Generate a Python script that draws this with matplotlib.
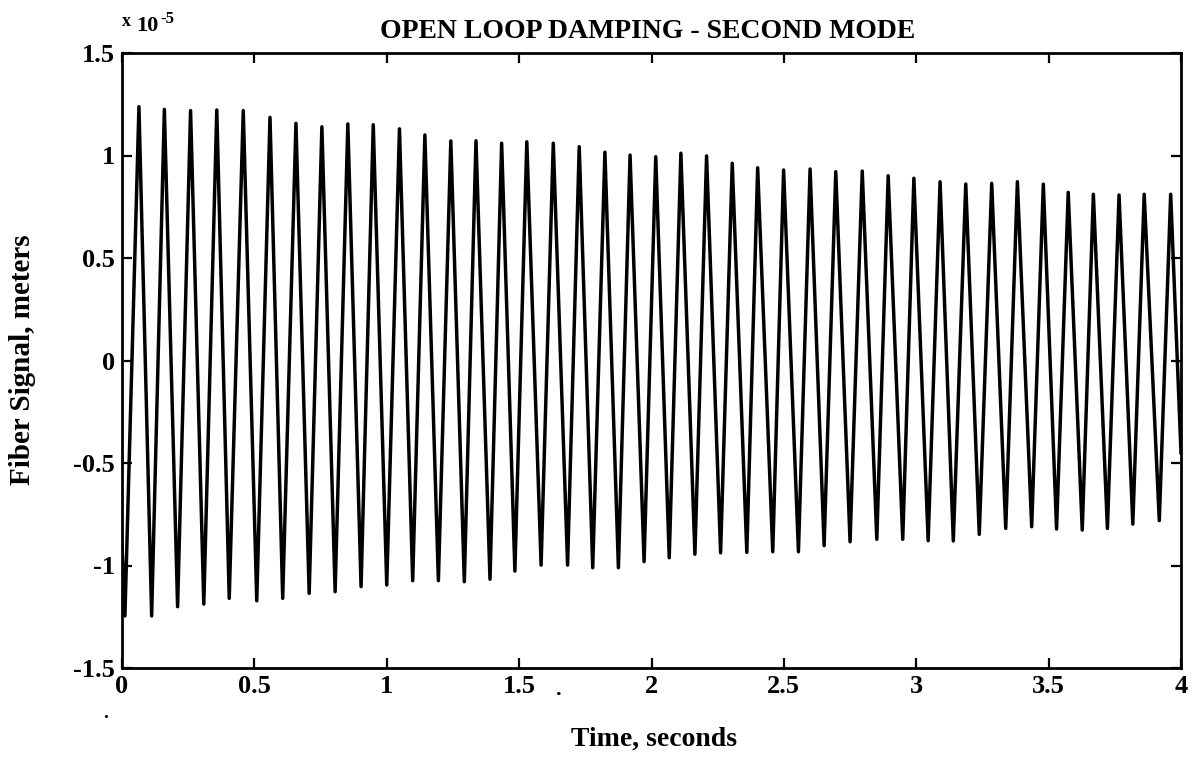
import matplotlib
matplotlib.use("Agg")
import matplotlib.pyplot as plt

# signal values are in units of 1e-5 m (axis shows the x10^-5 multiplier)
peak_t = [0.064, 0.160, 0.259, 0.358, 0.458, 0.559, 0.657, 0.755, 0.853, 0.949,
          1.048, 1.144, 1.242, 1.337, 1.434, 1.529, 1.629, 1.727, 1.824, 1.919,
          2.016, 2.111, 2.208, 2.305, 2.401, 2.499, 2.599, 2.696, 2.796, 2.894,
          2.991, 3.090, 3.187, 3.285, 3.382, 3.480, 3.574, 3.669, 3.766, 3.861,
          3.961]
peak_v = [1.238, 1.225, 1.219, 1.222, 1.219, 1.186, 1.157, 1.140, 1.154, 1.150,
          1.130, 1.100, 1.071, 1.072, 1.060, 1.067, 1.060, 1.043, 1.016, 1.002,
          0.994, 1.011, 0.998, 0.962, 0.940, 0.929, 0.934, 0.921, 0.924, 0.901,
          0.889, 0.872, 0.861, 0.864, 0.872, 0.860, 0.820, 0.811, 0.807, 0.811,
          0.811]
trough_t = [0.011, 0.112, 0.210, 0.309, 0.405, 0.509, 0.607, 0.707, 0.805, 0.903,
            1.000, 1.098, 1.195, 1.293, 1.390, 1.484, 1.583, 1.683, 1.778, 1.875,
            1.972, 2.067, 2.164, 2.261, 2.360, 2.458, 2.555, 2.652, 2.750, 2.851,
            2.949, 3.045, 3.140, 3.238, 3.338, 3.436, 3.530, 3.627, 3.722, 3.818,
            3.918]
trough_v = [-1.246, -1.246, -1.201, -1.188, -1.160, -1.172, -1.160, -1.136, -1.128, -1.103,
            -1.095, -1.074, -1.074, -1.079, -1.067, -1.027, -0.998, -0.998, -1.011, -1.011,
            -0.981, -0.962, -0.945, -0.938, -0.936, -0.933, -0.933, -0.903, -0.884, -0.872,
            -0.872, -0.879, -0.880, -0.848, -0.819, -0.811, -0.822, -0.827, -0.819, -0.798,
            -0.781]
start_t, start_v = 0.0, -0.90
end_t, end_v = 4.0, -0.45

xticks = [0, 0.5, 1, 1.5, 2, 2.5, 3, 3.5, 4]
xtick_labels = ["0", "0.5", "1", "1.5", "2", "2.5", "3", "3.5", "4"]
yticks = [-1.5, -1, -0.5, 0, 0.5, 1, 1.5]
ytick_labels = ["-1.5", "-1", "-0.5", "0", "0.5", "1", "1.5"]

plt.rcParams["font.family"] = ["Liberation Serif", "DejaVu Serif"]
plt.rcParams["font.weight"] = "bold"

W, H = 1198, 765


def px(x, y):
    # pixel position (from top-left) -> figure fraction
    return x / W, 1 - y / H


pts = sorted(list(zip(peak_t, peak_v)) + list(zip(trough_t, trough_v)))
t = [start_t] + [p[0] for p in pts] + [end_t]
v = [start_v] + [p[1] for p in pts] + [end_v]

fig = plt.figure(figsize=(W / 100, H / 100), dpi=100)
ax = fig.add_axes([122 / W, 1 - 668 / H, (1181 - 122) / W, (668 - 53) / H])
ax.plot(t, v, color="black", lw=2.5, solid_joinstyle="round")

ax.set_xlim(0, 4)
ax.set_ylim(-1.5, 1.5)
ax.set_xticks(xticks)
ax.set_xticklabels(xtick_labels)
ax.set_yticks(yticks)
ax.set_yticklabels(ytick_labels)
ax.tick_params(direction="in", length=7, width=1.6, top=True, right=True,
               labelsize=19, pad=5)
for s in ax.spines.values():
    s.set_linewidth(2.0)

fig.text(*px(648, 31), "OPEN LOOP DAMPING - SECOND MODE", fontsize=20,
         ha="center", va="center")
fig.text(*px(654, 739), "Time, seconds", fontsize=20, ha="center", va="center")
fig.text(*px(23, 360), "Fiber Signal, meters", fontsize=21, rotation=90,
         ha="center", va="center")

# multiplier in the top-left corner
fig.text(*px(122, 21), "x", fontsize=13, ha="left", va="center")
fig.text(*px(136, 26), "10", fontsize=16, ha="left", va="center")
fig.text(*px(160, 19), "-5", fontsize=12, ha="left", va="center")

# stray scan specks beside the labels
fig.text(*px(559, 690), ".", fontsize=16, ha="center", va="center")
fig.text(*px(106, 714), ".", fontsize=14, ha="center", va="center")

fig.savefig("out.png", dpi=100, facecolor="white")
